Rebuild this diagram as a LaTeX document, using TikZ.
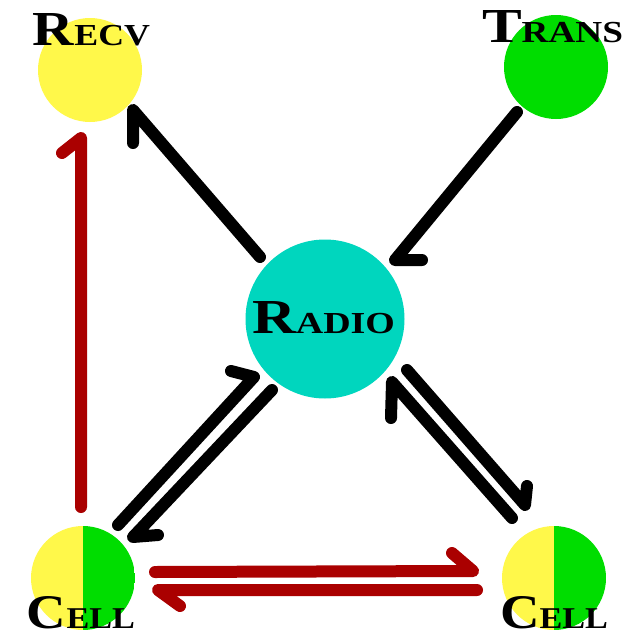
\documentclass[tikz,border=0pt]{standalone}
\usepackage{fontspec}
\setmainfont{Liberation Serif}
\usetikzlibrary{calc}
\definecolor{yel}{RGB}{255,248,74}
\definecolor{grn}{RGB}{0,221,0}
\definecolor{cyn}{RGB}{0,214,190}
\definecolor{dred}{RGB}{170,0,0}
\newcommand{\labtxt}[3]{\resizebox{#1pt}{32pt}{\bfseries{\fontsize{48}{48}\selectfont #2}{\fontsize{30}{30}\selectfont #3}}}
\begin{document}
\begin{tikzpicture}[x=1pt,y=-1pt,
  ball/.style={circle,inner sep=0pt,minimum size=#1},
  blk/.style={draw=black,line width=12pt,line cap=round,line join=round},
  rdl/.style={draw=dred,line width=12pt,line cap=round,line join=round},
  lbl/.style={inner sep=0pt,anchor=base,text=black},
  splitball/.style={circle,inner sep=0pt,minimum size=104pt,
    path picture={
      \fill[yel] (path picture bounding box.south west) rectangle (path picture bounding box.north);
      \fill[grn] (path picture bounding box.south) rectangle (path picture bounding box.north east);}}]
\fill[white] (0,0) rectangle (640,640);
\useasboundingbox (0,0) rectangle (640,640);
% nodes
\node[ball=104pt,fill=yel] (recv) at (90,70) {};
\node[ball=104pt,fill=grn] (trans) at (556,67) {};
\node[ball=159pt,fill=cyn] (radio) at (325,319) {};
\node[splitball] (cellL) at (83,578) {};
\node[splitball] (cellR) at (554,578) {};
% connectors
\draw[blk] ($(radio)+(-65,-62)$) -- ($(recv)+(43,40)$) -- ++(0,33);
\draw[blk] ($(trans)+(-39,45)$) -- ($(radio)+(70,-59)$) -- ++(27,0);
\draw[rdl] ($(cellL)+(-2,-71)$) -- ($(recv)+(-9,68)$) -- ++(-19,15);
\draw[blk] ($(cellL)+(35,-53)$) -- ($(radio)+(-71,58)$) -- ++(-23,-6);
\draw[blk] ($(radio)+(-53,71)$) -- ($(cellL)+(50,-41)$) -- ++(25,-2);
\draw[blk] ($(cellR)+(-42,-60)$) -- ($(radio)+(67,63)$) -- ++(-1,36);
\draw[blk] ($(radio)+(82,51)$) -- ($(cellR)+(-29,-73)$) -- ++(2,-19);
\draw[rdl] ($(cellL)+(72,-6)$) -- ($(cellR)+(-81,-7)$) -- ++(-21,-18);
\draw[rdl] ($(cellR)+(-77,12)$) -- ($(cellL)+(75,12)$) -- ++(22,16);
% labels
\node[lbl] (recvlbl) at (91.5,45) {\labtxt{117}{R}{ECV}};
\node[lbl] (translbl) at (552.5,42) {\labtxt{141}{T}{RANS}};
\node[lbl] (radiolbl) at (323.5,333) {\labtxt{143}{R}{ADIO}};
\node[lbl] (celllbl1) at (81,628) {\labtxt{108}{C}{ELL}};
\node[lbl] (celllbl2) at (554,628) {\labtxt{108}{C}{ELL}};
\end{tikzpicture}
\end{document}
